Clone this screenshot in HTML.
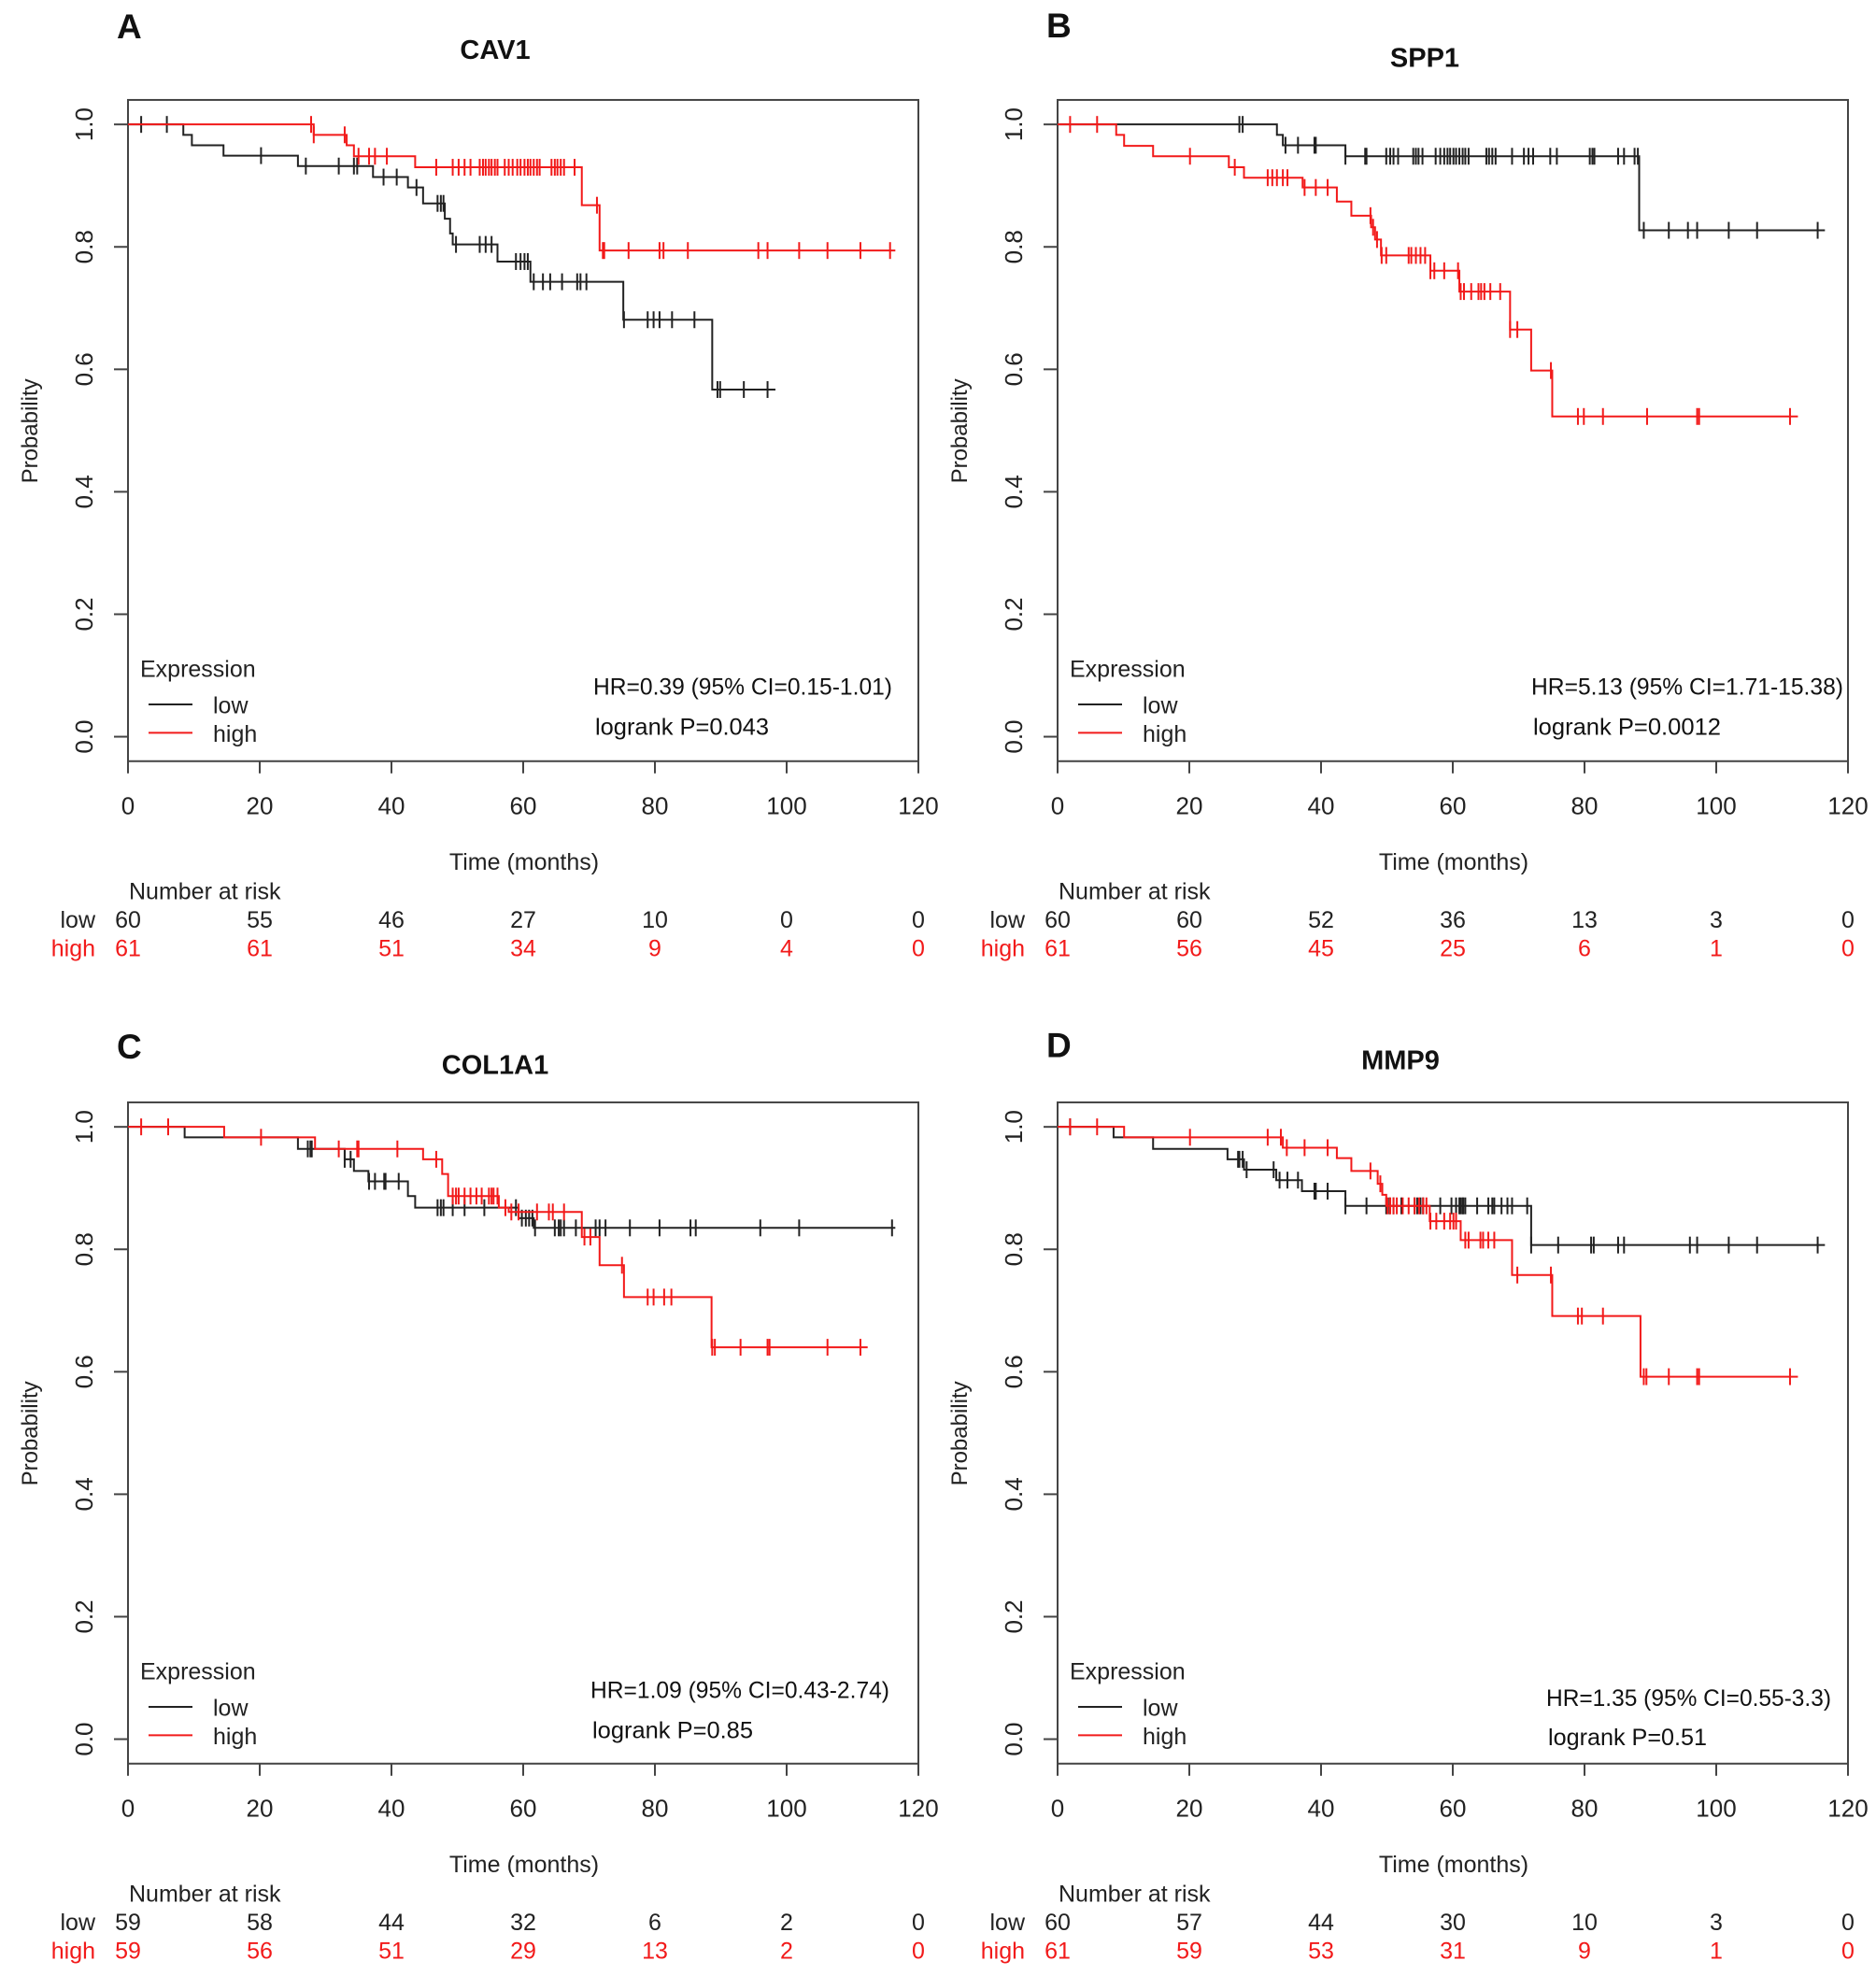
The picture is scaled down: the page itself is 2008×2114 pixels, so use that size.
<!DOCTYPE html>
<html><head><meta charset="utf-8"><style>
html,body{margin:0;padding:0;background:#fff;}
svg{display:block;font-family:"Liberation Sans",sans-serif;}
</style></head><body>
<svg id="fig" width="2008" height="2114" viewBox="0 0 2008 2114" xmlns="http://www.w3.org/2000/svg"></svg>
<script>
// ---------- Data ----------
const xTickLabels = ["0","20","40","60","80","100","120"];
const yTickLabels = ["0.0","0.2","0.4","0.6","0.8","1.0"];
const panelLetters = ["A","B","C","D"];
const geneNames = ["CAV1","SPP1","COL1A1","MMP9"];
const hrTexts = ["HR=0.39 (95% CI=0.15-1.01)","HR=5.13 (95% CI=1.71-15.38)","HR=1.09 (95% CI=0.43-2.74)","HR=1.35 (95% CI=0.55-3.3)"];
const pTexts = ["logrank P=0.043","logrank P=0.0012","logrank P=0.85","logrank P=0.51"];
const riskLow = [[60,55,46,27,10,0,0],[60,60,52,36,13,3,0],[59,58,44,32,6,2,0],[60,57,44,30,10,3,0]];
const riskHigh = [[61,61,51,34,9,4,0],[61,56,45,25,6,1,0],[59,56,51,29,13,2,0],[61,59,53,31,9,1,0]];

// Panel A
const aLowTimes = [8.4,9.7,14.5,25.8,37.2,42.5,44.8,48.1,48.9,49.3,56.1,61.1,75.2,88.7];
const aLowProbs = [0.983,0.966,0.949,0.932,0.914,0.897,0.871,0.846,0.822,0.804,0.776,0.743,0.681,0.567];
const aLowEnd = 98.3;
const aLowCens = [2.0,5.9,20.2,27.0,32.0,34.3,34.8,38.8,40.8,43.8,47.0,47.5,47.9,49.8,53.4,54.3,55.2,58.9,59.6,60.2,60.7,61.6,63.0,64.1,65.9,68.2,68.7,69.6,75.3,78.9,79.8,80.7,82.6,86.0,89.5,89.9,93.5,97.1];
const aHighTimes = [28.2,33.2,34.3,43.6,68.9,71.6];
const aHighProbs = [0.983,0.966,0.948,0.930,0.868,0.794];
const aHighEnd = 116.5;
const aHighCens = [27.8,28.2,32.9,35.0,36.6,37.5,39.3,46.8,49.3,50.2,51.1,52.0,53.4,53.9,54.3,54.8,55.2,55.7,56.1,57.2,57.8,58.4,59.1,59.6,60.2,60.7,61.1,61.6,62.1,62.5,64.3,64.8,65.2,65.7,66.2,67.8,71.2,72.1,72.3,76.0,80.7,81.3,85.0,95.7,97.1,101.9,106.2,111.2,115.7];
// Panel B
const bLowTimes = [33.3,34.2,43.7,88.3];
const bLowProbs = [0.983,0.966,0.948,0.827];
const bLowEnd = 116.5;
const bLowCens = [27.6,28.1,34.6,36.5,39.0,39.2,43.7,46.7,46.9,49.9,50.5,51.0,51.7,54.0,54.4,54.8,55.4,57.4,58.1,58.7,59.2,59.6,60.1,60.5,61.0,61.5,61.9,62.4,65.1,65.5,66.0,66.5,69.0,70.8,71.5,72.2,74.8,75.8,80.8,81.2,81.5,85.1,86.0,87.6,88.1,89.0,92.8,95.7,97.1,101.9,106.2,115.4];
const bHighTimes = [8.9,10.1,14.5,26.0,28.3,37.2,42.4,44.6,47.6,48.2,49.1,56.6,61.0,68.7,71.9,75.1];
const bHighProbs = [0.983,0.965,0.948,0.930,0.913,0.897,0.874,0.851,0.832,0.812,0.786,0.761,0.727,0.665,0.598,0.523];
const bHighEnd = 112.4;
const bHighCens = [1.9,6.0,20.1,26.9,31.9,32.6,33.3,34.2,34.9,37.5,39.2,41.0,47.5,47.9,48.5,49.2,49.9,53.3,53.7,54.4,55.1,55.8,56.6,57.2,58.7,60.8,61.2,61.7,62.8,63.9,64.3,64.8,65.7,67.2,68.7,69.8,74.9,79.0,79.9,82.8,89.5,97.1,97.4,111.2];
// Panel C
const cLowTimes = [8.6,25.8,32.9,34.3,36.5,42.5,43.6,59.3,61.6];
const cLowProbs = [0.983,0.964,0.947,0.928,0.911,0.887,0.868,0.851,0.835];
const cLowEnd = 116.5;
const cLowCens = [27.3,27.7,27.9,32.9,33.8,36.6,37.5,38.9,39.1,41.1,47.0,47.5,47.9,49.3,51.1,54.1,58.9,59.8,60.4,60.9,61.4,61.8,64.8,65.4,65.7,66.2,68.0,71.0,71.6,72.5,76.2,80.7,85.4,86.2,96.0,101.9,116.0];
const cHighTimes = [14.6,28.4,44.8,47.7,48.6,56.3,57.8,68.9,71.6,75.3,88.6];
const cHighProbs = [0.983,0.964,0.947,0.923,0.887,0.868,0.861,0.820,0.774,0.722,0.640];
const cHighEnd = 112.3;
const cHighCens = [2.0,6.1,20.2,32.0,34.8,35.0,40.9,46.8,49.3,49.8,50.2,51.1,52.0,52.9,53.7,54.8,55.2,55.5,56.1,57.3,58.2,59.3,62.1,63.9,64.5,66.2,69.3,70.2,75.0,78.9,79.8,81.4,82.5,88.7,89.1,93.0,97.1,97.4,106.2,111.2];
// Panel D
const dLowTimes = [8.5,14.5,25.8,28.3,33.2,37.1,43.7,71.9];
const dLowProbs = [0.983,0.964,0.947,0.930,0.913,0.895,0.871,0.807];
const dLowEnd = 116.5;
const dLowCens = [1.9,27.4,27.6,28.1,28.7,32.8,33.7,34.9,36.5,39.0,39.2,41.0,43.7,46.9,49.9,50.4,51.0,52.2,54.2,54.6,55.1,55.5,58.1,59.8,60.5,61.0,61.2,61.5,61.6,61.9,63.7,65.4,66.0,66.3,67.4,68.3,69.0,71.3,71.9,76.0,81.0,81.4,85.1,86.0,96.0,97.1,101.9,106.2,115.4];
const dHighTimes = [10.1,34.2,42.4,44.6,48.6,49.3,49.9,56.5,61.2,69.0,75.1,88.5];
const dHighProbs = [0.983,0.966,0.949,0.928,0.907,0.889,0.871,0.846,0.815,0.758,0.691,0.592];
const dHighEnd = 112.4;
const dHighCens = [1.9,6.0,20.1,31.9,33.9,34.8,37.5,41.0,47.5,49.0,50.1,50.5,51.0,51.5,52.4,53.3,54.2,54.9,55.5,56.0,56.6,57.5,58.7,59.6,60.1,60.5,61.9,62.4,64.2,64.6,65.4,66.3,69.8,74.9,79.0,79.6,82.8,89.0,89.4,92.8,97.1,97.4,111.2];

const panelSeries = [
 {low:[aLowTimes,aLowProbs,aLowEnd,aLowCens], high:[aHighTimes,aHighProbs,aHighEnd,aHighCens]},
 {low:[bLowTimes,bLowProbs,bLowEnd,bLowCens], high:[bHighTimes,bHighProbs,bHighEnd,bHighCens]},
 {low:[cLowTimes,cLowProbs,cLowEnd,cLowCens], high:[cHighTimes,cHighProbs,cHighEnd,cHighCens]},
 {low:[dLowTimes,dLowProbs,dLowEnd,dLowCens], high:[dHighTimes,dHighProbs,dHighEnd,dHighCens]}
];

// ---------- Layout ----------
const NS = "http://www.w3.org/2000/svg";
const svg = document.getElementById('fig');
const SY = 1.0486;
const offsets = [[0,0],[995,0],[0,1073],[995,1073]];
const titleX = [530,1525,530,1499];
const titleY = [60,68,73,68];
const letterY = [39,38,57,56];
const hrX = [635,644,632,660], hrY = [700,700,701,709], pY = [741,741,742,749];
const hrW = [320,334,320,305], pW = [186,201,172,170];
const RED = "#f21a1a", BLK = "#222";

function mk(tag, attrs, parent, text){
  const e = document.createElementNS(NS, tag);
  for (const k in attrs) e.setAttribute(k, attrs[k]);
  if (text !== undefined) e.textContent = text;
  (parent||svg).appendChild(e);
  return e;
}
function survAt(times, probs, t){
  let p = 1;
  for (let i=0;i<times.length;i++){ if (times[i] <= t) p = probs[i]; }
  return p;
}

for (let k=0;k<4;k++){
  const ox = offsets[k][0], oy = offsets[k][1];
  const Y = v => v*SY + oy;
  const g = mk('g', {});
  
  
  const left = 137+ox, right = 983+ox, top = Y(102), bottom = Y(777);
  const y0 = Y(752), y1 = Y(127);
  const xs = t => left + t/120*(right-left);
  const ys = p => y0 - p*(y0-y1);

  let e;
  e = mk('text', {x:125+ox, y:Y(letterY[k]), 'font-size':37, 'font-weight':'bold', fill:'#111'}, g, panelLetters[k]);
   
  e = mk('text', {x:titleX[k], y:Y(titleY[k]), 'font-size':29, 'font-weight':'bold', 'text-anchor':'middle', fill:'#111'}, g, geneNames[k]);
   

  e = mk('rect', {x:left, y:top, width:right-left, height:bottom-top, fill:'none', stroke:'#444', 'stroke-width':2}, g);
   

  for (let i=0;i<yTickLabels.length;i++){
    const p = i*0.2, yy = ys(p);
    e = mk('line', {x1:left-15, x2:left, y1:yy, y2:yy, stroke:'#444', 'stroke-width':2}, g);
     
    e = mk('text', {x:99+ox, y:yy, 'font-size':26, fill:'#222', 'text-anchor':'middle', transform:`rotate(-90 ${99+ox} ${yy})`}, g, yTickLabels[i]);
     
  }
  e = mk('text', {x:40+ox, y:Y(440), 'font-size':24, fill:'#222', 'text-anchor':'middle', transform:`rotate(-90 ${40+ox} ${Y(440)})`}, g, 'Probability');
   

  for (let i=0;i<xTickLabels.length;i++){
    const xx = xs(i*20);
    e = mk('line', {x1:xx, x2:xx, y1:bottom, y2:bottom+13, stroke:'#444', 'stroke-width':2}, g);
     
    e = mk('text', {x:xx, y:Y(831), 'font-size':26, fill:'#222', 'text-anchor':'middle'}, g, xTickLabels[i]);
     
    e = mk('text', {x:xx, y:Y(947), 'font-size':25, fill:'#222', 'text-anchor':'middle'}, g, String(riskLow[k][i]));
     
    e = mk('text', {x:xx, y:Y(976), 'font-size':25, fill:RED, 'text-anchor':'middle'}, g, String(riskHigh[k][i]));
     
  }
  e = mk('text', {x:561+ox, y:Y(888), 'font-size':25, fill:'#222', 'text-anchor':'middle'}, g, 'Time (months)');
   
  e = mk('text', {x:138+ox, y:Y(918), 'font-size':25, fill:'#222'}, g, 'Number at risk');
   
  e = mk('text', {x:102+ox, y:Y(947), 'font-size':25, fill:'#222', 'text-anchor':'end'}, g, 'low');
   
  e = mk('text', {x:102+ox, y:Y(976), 'font-size':25, fill:RED, 'text-anchor':'end'}, g, 'high');
   

  e = mk('text', {x:150+ox, y:Y(691), 'font-size':25, fill:'#222'}, g, 'Expression');
   
  e = mk('line', {x1:159+ox, x2:206+ox, y1:Y(719), y2:Y(719), stroke:BLK, 'stroke-width':2}, g);
   
  e = mk('text', {x:228+ox, y:Y(728), 'font-size':25, fill:'#222'}, g, 'low');
   
  e = mk('line', {x1:159+ox, x2:206+ox, y1:Y(748), y2:Y(748), stroke:RED, 'stroke-width':2}, g);
   
  e = mk('text', {x:228+ox, y:Y(757), 'font-size':25, fill:'#222'}, g, 'high');
   

  e = mk('text', {x:hrX[k]+ox, y:Y(hrY[k]+9), 'font-size':25, fill:'#111', textLength:hrW[k], lengthAdjust:'spacingAndGlyphs'}, g, hrTexts[k]);
   
  e = mk('text', {x:hrX[k]+ox+2, y:Y(pY[k]+9), 'font-size':25, fill:'#111', textLength:pW[k], lengthAdjust:'spacingAndGlyphs'}, g, pTexts[k]);
   

  const order = [['low',BLK],['high',RED]];
  for (const [key,col] of order){
    const [times, probs, tEnd, cens] = panelSeries[k][key];
    let d = `M${xs(0)},${ys(1)}`;
    for (let i=0;i<times.length;i++){
      d += ` H${xs(times[i])} V${ys(probs[i])}`;
    }
    d += ` H${xs(tEnd)}`;
    e = mk('path', {d:d, fill:'none', stroke:col, 'stroke-width':2}, g);
    
    
    for (const t of cens){
      const cx = xs(t), cy = ys(survAt(times, probs, t));
      e = mk('line', {x1:cx, x2:cx, y1:cy-9, y2:cy+9, stroke:col, 'stroke-width':2}, g);
      
      
    }
  }
}
</script>
</body></html>
